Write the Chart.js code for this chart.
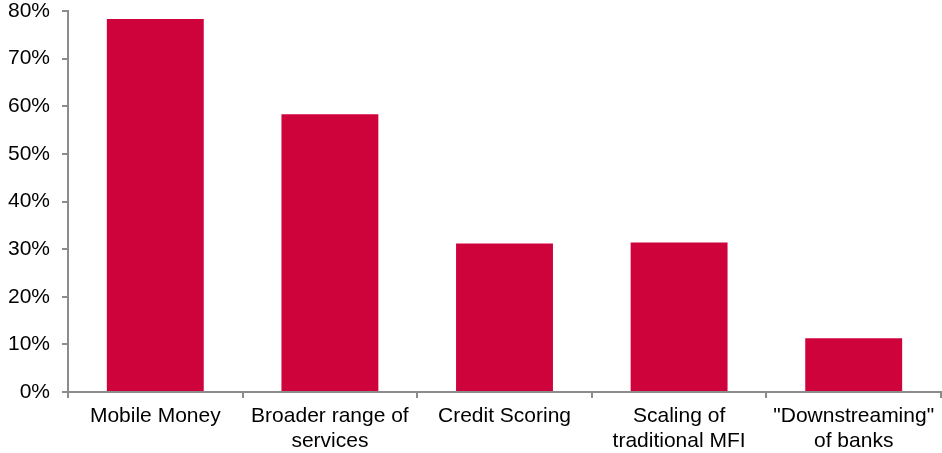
<!DOCTYPE html>
<html>
<head>
<meta charset="utf-8">
<script src="https://cdn.jsdelivr.net/npm/chart.js@4/dist/chart.umd.min.js"></script>
<style>
  html, body { margin: 0; padding: 0; background: #fff; }
  #wrap { width: 942px; height: 453px; }
</style>
</head>
<body>
<div id="wrap"><canvas id="chart"></canvas></div>
<script>
const categories = [
    'Mobile Money',
    ['Broader range of', 'services'],
    'Credit Scoring',
    ['Scaling of', 'traditional MFI'],
    ['"Downstreaming"', 'of banks']
];
const shares = [78.3, 58.3, 31.2, 31.4, 11.3];
const yTicks = [0, 10, 20, 30, 40, 50, 60, 70, 80];

const axisColor = '#8c8c8c';
const barColor = '#cf033c';

const ctx = document.getElementById('chart');
new Chart(ctx, {
    type: 'bar',
    data: {
        labels: categories,
        datasets: [{
            data: shares,
            backgroundColor: barColor,
            borderWidth: 0,
            barPercentage: 0.555,
            categoryPercentage: 1
        }]
    },
    options: {
        responsive: true,
        maintainAspectRatio: false,
        animation: false,
        layout: { padding: { top: 11, right: 1, left: 0, bottom: 0 } },
        plugins: {
            legend: { display: false },
            tooltip: { enabled: false }
        },
        scales: {
            x: {
                grid: {
                    display: true,
                    offset: true,
                    drawOnChartArea: false,
                    drawTicks: true,
                    tickLength: 6,
                    color: axisColor,
                    lineWidth: 2
                },
                border: { color: axisColor, width: 2 },
                ticks: {
                    color: '#000',
                    font: { family: 'Liberation Sans', size: 21, lineHeight: 1.17 },
                    padding: 6,
                    maxRotation: 0,
                    autoSkip: false
                },
                afterFit: function(scale){
                    scale.height = 61;
                    scale.paddingLeft = 0;
                    scale.paddingRight = 0;
                }
            },
            y: {
                min: 0,
                max: 80,
                afterBuildTicks: function(scale){
                    scale.ticks = yTicks.map(v => ({ value: v }));
                },
                grid: {
                    display: true,
                    drawOnChartArea: false,
                    drawTicks: true,
                    tickLength: 6,
                    color: axisColor,
                    lineWidth: 2
                },
                border: { color: axisColor, width: 2 },
                ticks: {
                    color: '#000',
                    font: { family: 'Liberation Sans', size: 21 },
                    padding: 12,
                    callback: v => v + '%'
                },
                afterFit: function(scale){
                    scale.width = 68;
                    scale.paddingTop = 0;
                    scale.paddingBottom = 0;
                }
            }
        }
    }
});
</script>
</body>
</html>
